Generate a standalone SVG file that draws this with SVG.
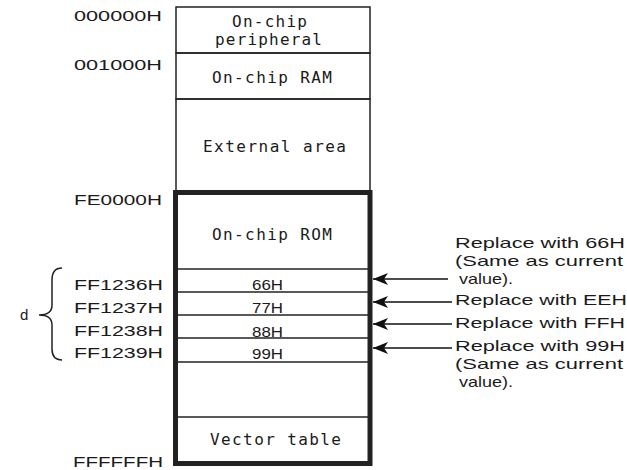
<svg xmlns="http://www.w3.org/2000/svg" width="627" height="470" viewBox="0 0 627 470">
<defs>
<style>
.mono{font-family:"DejaVu Sans Mono","Liberation Mono",monospace;font-size:16px;fill:#1a1a1a}
.sans{font-family:"Liberation Sans",Arial,sans-serif;font-size:14px;fill:#1a1a1a}
.val{font-family:"Liberation Sans",Arial,sans-serif;font-size:15px;fill:#1a1a1a}
.lbl{font-family:"Liberation Sans",Arial,sans-serif;font-size:15px;fill:#1a1a1a}
.thin{fill:none;stroke:#222;stroke-width:1.5}
.thick{fill:none;stroke:#222;stroke-width:5}
.conn{fill:none;stroke:#111;stroke-width:1.6}
</style>
<marker id="ah" markerUnits="userSpaceOnUse" markerWidth="16" markerHeight="14" refX="15" refY="7" orient="auto">
<path d="M0,1 L15,7 L0,13 L4,7 Z" fill="#111"/>
</marker>
</defs>
<rect width="627" height="470" fill="#fff"/>
<g id="addresses">
<text class="sans" x="74" y="21" textLength="88" lengthAdjust="spacingAndGlyphs">000000H</text>
<text class="sans" x="74" y="70" textLength="88" lengthAdjust="spacingAndGlyphs">001000H</text>
<text class="sans" x="74" y="205" textLength="88" lengthAdjust="spacingAndGlyphs">FE0000H</text>
<text class="sans" x="74" y="290" textLength="89" lengthAdjust="spacingAndGlyphs">FF1236H</text>
<text class="sans" x="74" y="313" textLength="89" lengthAdjust="spacingAndGlyphs">FF1237H</text>
<text class="sans" x="74" y="336" textLength="89" lengthAdjust="spacingAndGlyphs">FF1238H</text>
<text class="sans" x="74" y="358" textLength="89" lengthAdjust="spacingAndGlyphs">FF1239H</text>
<text class="sans" x="73" y="467" textLength="90" lengthAdjust="spacingAndGlyphs">FFFFFFH</text>
</g>
<g id="peripheral">
<rect class="thin" x="176" y="7" width="194" height="46"/>
<text class="mono" x="232" y="27" textLength="75" lengthAdjust="spacing">On-chip</text>
<text class="mono" x="215" y="45" textLength="107" lengthAdjust="spacing">peripheral</text>
</g>
<g id="ram">
<rect class="thin" x="176" y="53" width="194" height="46"/>
<text class="mono" x="212" y="83" textLength="120" lengthAdjust="spacing">On-chip RAM</text>
</g>
<g id="external">
<rect class="thin" x="176" y="99" width="194" height="94"/>
<text class="mono" x="203" y="152" textLength="143" lengthAdjust="spacing">External area</text>
</g>
<g id="rom">
<line class="thin" x1="176" y1="269" x2="370" y2="269"/>
<text class="mono" x="212" y="240" textLength="120" lengthAdjust="spacing">On-chip ROM</text>
</g>
<g id="cell66">
<line class="thin" x1="176" y1="292" x2="370" y2="292"/>
<text class="val" x="252" y="290" textLength="31" lengthAdjust="spacingAndGlyphs">66H</text>
</g>
<g id="cell77">
<line class="thin" x1="176" y1="315" x2="370" y2="315"/>
<text class="val" x="252" y="313" textLength="31" lengthAdjust="spacingAndGlyphs">77H</text>
</g>
<g id="cell88">
<line class="thin" x1="176" y1="338" x2="370" y2="338"/>
<text class="val" x="252" y="337" textLength="31" lengthAdjust="spacingAndGlyphs">88H</text>
</g>
<g id="cell99">
<line class="thin" x1="176" y1="362" x2="370" y2="362"/>
<text class="val" x="252" y="359" textLength="31" lengthAdjust="spacingAndGlyphs">99H</text>
</g>
<g id="vector">
<line class="thin" x1="176" y1="417" x2="370" y2="417"/>
<text class="mono" x="210" y="445" textLength="131" lengthAdjust="spacing">Vector table</text>
</g>
<g id="rom-area">
<rect class="thick" x="175.5" y="192.5" width="194.5" height="271"/>
</g>
<g id="brace-d">
<path class="thin" d="M62,268 Q52,268 52,280 L52,305 Q52,315 39,315 Q52,315 52,325 L52,349 Q52,360 62,360"/>
<text class="lbl" x="20" y="320" font-size="16">d</text>
</g>
<g id="notes">
<text class="lbl" x="455" y="248" textLength="170" lengthAdjust="spacingAndGlyphs">Replace with 66H</text>
<text class="lbl" x="455" y="266" textLength="168" lengthAdjust="spacingAndGlyphs">(Same as current</text>
<text class="lbl" x="459" y="284" textLength="54" lengthAdjust="spacingAndGlyphs">value).</text>
<text class="lbl" x="455" y="305" textLength="172" lengthAdjust="spacingAndGlyphs">Replace with EEH</text>
<text class="lbl" x="455" y="328" textLength="170" lengthAdjust="spacingAndGlyphs">Replace with FFH</text>
<text class="lbl" x="455" y="351" textLength="170" lengthAdjust="spacingAndGlyphs">Replace with 99H</text>
<text class="lbl" x="455" y="369" textLength="168" lengthAdjust="spacingAndGlyphs">(Same as current</text>
<text class="lbl" x="459" y="387" textLength="54" lengthAdjust="spacingAndGlyphs">value).</text>
</g>
<g id="connectors">
<line class="conn" x1="448" y1="279" x2="373" y2="279" marker-end="url(#ah)"/>
<line class="conn" x1="452" y1="302" x2="373" y2="302" marker-end="url(#ah)"/>
<line class="conn" x1="452" y1="324" x2="373" y2="324" marker-end="url(#ah)"/>
<line class="conn" x1="452" y1="348" x2="373" y2="348" marker-end="url(#ah)"/>
</g>
</svg>
